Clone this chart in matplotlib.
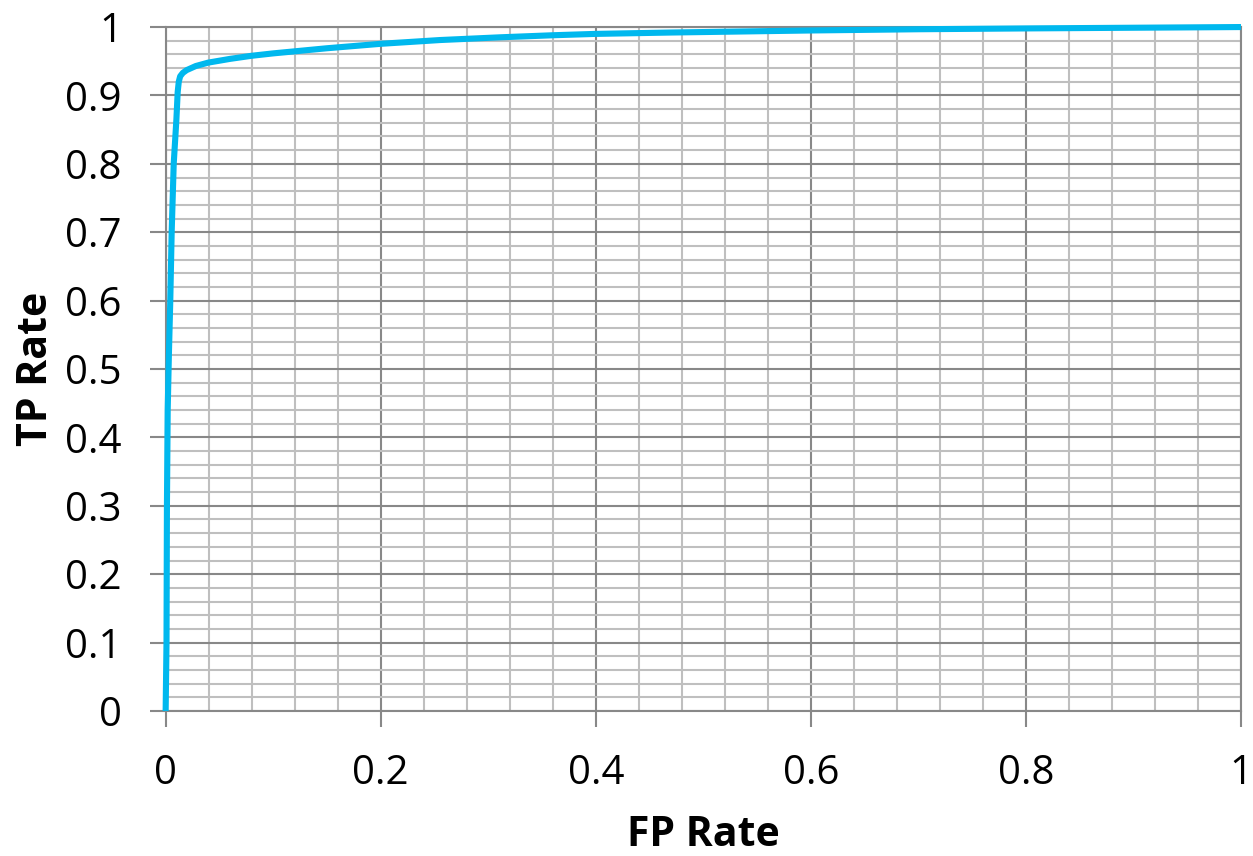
import matplotlib
matplotlib.use("Agg")
import matplotlib.pyplot as plt
from matplotlib.ticker import MultipleLocator, FuncFormatter

plt.rcParams['font.family'] = ['Open Sans', 'DejaVu Sans']

fp_rate = [0, 0.0008, 0.0012, 0.0019, 0.0030, 0.0043, 0.0056, 0.0075, 0.0100,
           0.0112, 0.0122, 0.0135, 0.0160, 0.0195, 0.0280, 0.0396, 0.060, 0.080, 0.100,
           0.15, 0.20, 0.255, 0.311, 0.36, 0.40, 0.47, 0.60, 0.70, 0.80, 0.90, 1.0]
tp_rate = [0, 0.10, 0.30, 0.44, 0.52, 0.60, 0.70, 0.80, 0.865,
           0.9050, 0.9200, 0.9280, 0.9330, 0.9370, 0.9430, 0.9480, 0.9535, 0.9580, 0.9615,
           0.9690, 0.9755, 0.9810, 0.9850, 0.9880, 0.9900, 0.9920, 0.9950, 0.9968, 0.9980, 0.9990, 1.0]

x_label = "FP Rate"
y_label = "TP Rate"

fig = plt.figure(figsize=(12.53, 8.56), dpi=100)
ax = fig.add_axes([0.1322, 0.1694, 0.8582, 0.7990])

major_c = '#888888'
minor_c = '#bfbfbf'

ax.set_xlim(0, 1)
ax.set_ylim(0, 1)
ax.xaxis.set_major_locator(MultipleLocator(0.2))
ax.xaxis.set_minor_locator(MultipleLocator(0.04))
ax.yaxis.set_major_locator(MultipleLocator(0.1))
ax.yaxis.set_minor_locator(MultipleLocator(0.02))

fmt = FuncFormatter(lambda v, p: f"{v:.10g}" if abs(v) > 1e-9 else "0")
ax.xaxis.set_major_formatter(fmt)
ax.yaxis.set_major_formatter(fmt)

ax.grid(which='minor', color=minor_c, linewidth=1.5, zorder=0)
ax.grid(which='major', color=major_c, linewidth=1.5, zorder=1)
ax.set_axisbelow(True)

for s in ax.spines.values():
    s.set_color(major_c)
    s.set_linewidth(1.5)

ax.tick_params(which='major', direction='out', length=11.5, width=1.5, color=major_c,
               labelsize=29, labelcolor='black')
ax.tick_params(axis='y', which='major', pad=20)
ax.tick_params(axis='x', which='major', pad=19)
ax.tick_params(which='minor', length=0)

ax.plot(fp_rate, tp_rate, color='#00b8ee', linewidth=4.4, solid_joinstyle='round',
        solid_capstyle='butt', zorder=3, clip_on=False)

ax.set_xlabel(x_label, fontsize=29.5, fontweight='bold', labelpad=15)
ax.set_ylabel(y_label, fontsize=29.5, fontweight='bold', labelpad=6)

fig.savefig("out.png", dpi=100)
